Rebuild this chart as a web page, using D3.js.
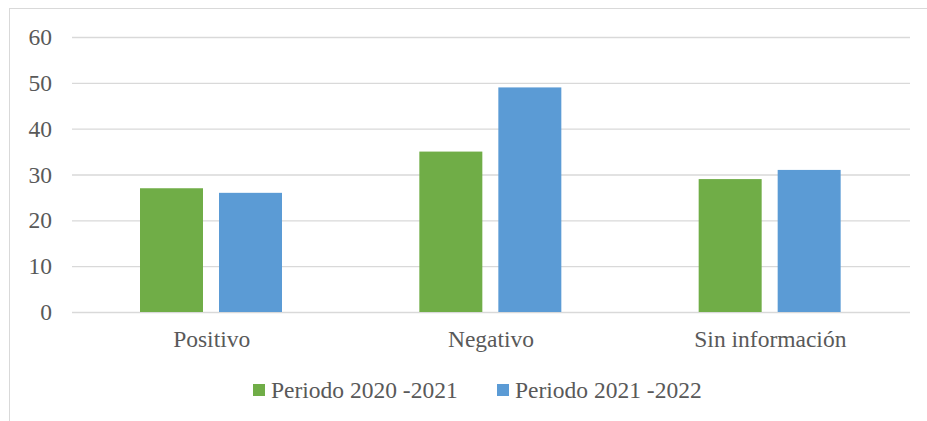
<!DOCTYPE html>
<html>
<head>
<meta charset="UTF-8">
<title>Periodos</title>
<style>
  body { margin: 0; background: #fff; }
  text { font-family: "Liberation Serif", "Times New Roman", serif; fill: #595959; }
</style>
</head>
<body>
<script src="https://d3js.org/d3.v7.min.js"></script>
<script>
// data
var categories = ["Positivo", "Negativo", "Sin información"];
var series = ["Periodo 2020 -2021", "Periodo 2021 -2022"];
var values2021 = [27, 35, 29];
var values2022 = [26, 49, 31];
var yTicks = [0, 10, 20, 30, 40, 50, 60];
var colors = ["#70AD47", "#5B9BD5"];

var W = 927, H = 421;
var plot = {left: 72, right: 910, top: 37, bottom: 312};
var fontSize = "23.5px";

var svg = d3.select("body").append("svg")
    .attr("width", W)
    .attr("height", H);

// chart frame
svg.append("rect")
    .attr("x", 9.5).attr("y", 8.5)
    .attr("width", W).attr("height", H)
    .attr("fill", "none")
    .attr("stroke", "#d9d9d9");

var y = d3.scaleLinear().domain([0, 60]).range([plot.bottom, plot.top]);
var x0 = d3.scaleBand().domain(categories).range([plot.left, plot.right]).padding(0);
var x1 = d3.scaleBand().domain(series)
    .range([68, 68 + 142])
    .paddingInner(16 / 79).paddingOuter(0);

// gridlines
svg.append("g").selectAll("line")
    .data(yTicks)
  .enter().append("line")
    .attr("x1", plot.left).attr("x2", plot.right)
    .attr("y1", function(d) { return y(d) + 0.5; })
    .attr("y2", function(d) { return y(d) + 0.5; })
    .attr("stroke", "#d9d9d9")
    .attr("stroke-width", 1.3);

// y axis labels
var yAxis = d3.axisLeft(y).tickValues(yTicks).tickSize(0).tickPadding(0);
var gy = svg.append("g")
    .attr("transform", "translate(52,0)")
    .call(yAxis);
gy.select(".domain").remove();
gy.selectAll("text")
    .style("font-size", fontSize)
    .style("font-family", "Liberation Serif")
    .attr("fill", "#595959");

// bars
var rows = categories.map(function(c, i) {
  return {cat: c, vals: [values2021[i], values2022[i]]};
});
var groups = svg.append("g").selectAll("g")
    .data(rows)
  .enter().append("g")
    .attr("transform", function(d) { return "translate(" + x0(d.cat) + ",0)"; });
groups.selectAll("rect")
    .data(function(d) { return d.vals.map(function(v, j) { return {s: series[j], v: v, j: j}; }); })
  .enter().append("rect")
    .attr("x", function(d) { return x1(d.s); })
    .attr("width", x1.bandwidth())
    .attr("y", function(d) { return y(d.v); })
    .attr("height", function(d) { return y(0) - y(d.v); })
    .attr("fill", function(d) { return colors[d.j]; });

// x axis labels
var xAxis = d3.axisBottom(x0).tickSize(0).tickPadding(0);
var gx = svg.append("g")
    .attr("transform", "translate(0,330)")
    .call(xAxis);
gx.select(".domain").remove();
gx.selectAll("text")
    .style("font-size", fontSize)
    .style("font-family", "Liberation Serif")
    .attr("fill", "#595959");

// legend
var legendX = [253, 497];
var legend = svg.append("g").selectAll("g")
    .data(series)
  .enter().append("g")
    .attr("transform", function(d, i) { return "translate(" + legendX[i] + ",384)"; });
legend.append("rect")
    .attr("width", 12).attr("height", 12)
    .attr("fill", function(d, i) { return colors[i]; });
legend.append("text")
    .attr("x", 18).attr("y", 14)
    .style("font-size", fontSize)
    .text(function(d) { return d; });
</script>
</body>
</html>
